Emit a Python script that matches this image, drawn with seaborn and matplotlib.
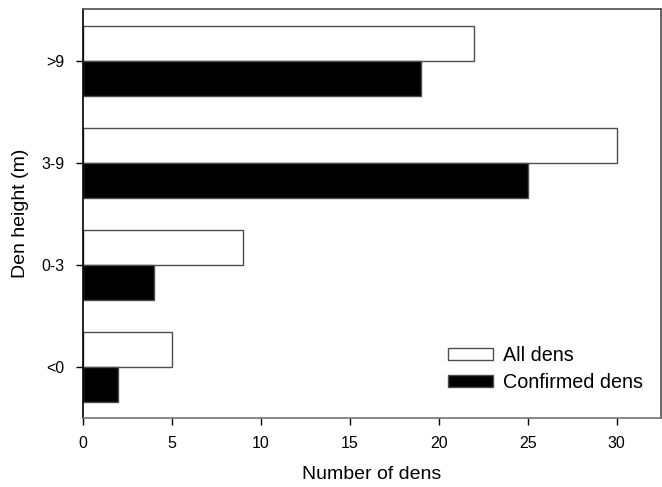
import seaborn as sns
import pandas as pd
import matplotlib.pyplot as plt

heights = [">9", "3-9", "0-3", "<0"]
all_dens = [22, 30, 9, 5]
confirmed_dens = [19, 25, 4, 2]
series = ["All dens", "Confirmed dens"]

data = pd.DataFrame({
    "height": heights * 2,
    "count": all_dens + confirmed_dens,
    "kind": [series[0]] * 4 + [series[1]] * 4,
})

sns.set_style("ticks")
plt.rcParams["font.family"] = ["Liberation Sans", "DejaVu Sans"]
plt.rcParams["text.color"] = "black"
plt.rcParams["axes.labelcolor"] = "black"
plt.rcParams["xtick.color"] = "black"
plt.rcParams["ytick.color"] = "black"

fig = plt.figure(figsize=(6.62, 4.87), dpi=100)
ax = fig.add_axes([0.125, 0.1417, 0.8735, 0.8398])

sns.barplot(data=data, x="count", y="height", hue="kind", order=heights,
            hue_order=series, orient="h", palette=["white", "black"],
            width=0.69, gap=0, edgecolor="0.3", linewidth=1, ax=ax)

ax.set_xlim(0, 32.5)
ax.set_ylim(3.5, -0.51)
ax.set_xticks(range(0, 31, 5))
ax.set_xlabel("Number of dens", fontsize=14, labelpad=11)
ax.set_ylabel("Den height (m)", fontsize=14, labelpad=9)
ax.tick_params(axis="both", direction="out", length=5, width=1, labelsize=11.5,
               pad=8)

for side in ["top", "bottom", "left", "right"]:
    ax.spines[side].set_visible(True)
    ax.spines[side].set_linewidth(1.2)
ax.spines["left"].set_color("black")
ax.spines["bottom"].set_color("0.45")
ax.spines["top"].set_color("0.3")
ax.spines["right"].set_color("0.3")

ax.legend(loc="lower right", bbox_to_anchor=(1.0, 0.02), frameon=False,
          fontsize=14.2, handlelength=2.3, handleheight=0.6, labelspacing=0.4,
          handletextpad=0.5)

fig.savefig("out.png", dpi=100)
